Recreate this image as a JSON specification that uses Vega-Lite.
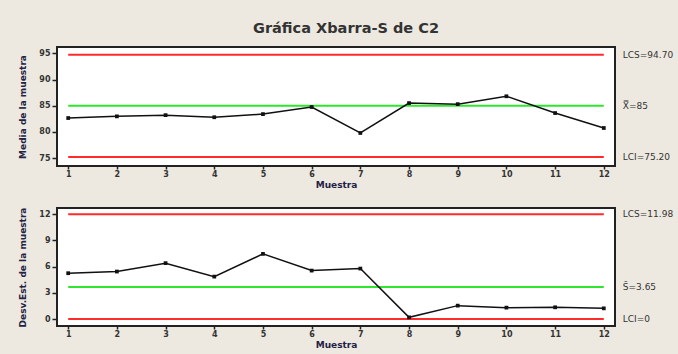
{
  "$schema": "https://vega.github.io/schema/vega-lite/v6.json",
  "background": "#ede9e0",
  "padding": {"left": 17, "top": 20, "right": 4, "bottom": 4},
  "title": {
    "text": "Gráfica Xbarra-S de C2",
    "font": "DejaVu Sans",
    "fontSize": 14.5,
    "fontWeight": "bold",
    "color": "#333333",
    "anchor": "middle",
    "offset": 10
  },
  "datasets": {
    "muestras": [
      {"muestra": 1, "media": 82.65, "desv": 5.24},
      {"muestra": 2, "media": 82.97, "desv": 5.43},
      {"muestra": 3, "media": 83.2, "desv": 6.39},
      {"muestra": 4, "media": 82.8, "desv": 4.85},
      {"muestra": 5, "media": 83.4, "desv": 7.45},
      {"muestra": 6, "media": 84.75, "desv": 5.54},
      {"muestra": 7, "media": 79.8, "desv": 5.77},
      {"muestra": 8, "media": 85.5, "desv": 0.19},
      {"muestra": 9, "media": 85.3, "desv": 1.53},
      {"muestra": 10, "media": 86.8, "desv": 1.3},
      {"muestra": 11, "media": 83.6, "desv": 1.34},
      {"muestra": 12, "media": 80.75, "desv": 1.22}
    ],
    "limMedia": [
      {"tipo": "control", "valor": 94.7, "etiqueta": "LCS=94.70"},
      {"tipo": "centro", "valor": 85, "etiqueta": "X̿=85"},
      {"tipo": "control", "valor": 75.2, "etiqueta": "LCI=75.20"}
    ],
    "limDesv": [
      {"tipo": "control", "valor": 11.98, "etiqueta": "LCS=11.98"},
      {"tipo": "centro", "valor": 3.65, "etiqueta": "S̄=3.65"},
      {"tipo": "control", "valor": 0, "etiqueta": "LCI=0"}
    ]
  },
  "spacing": 16,
  "vconcat": [
    {
      "width": 558,
      "height": 119,
      "layer": [
        {
          "data": {"name": "limMedia"},
          "mark": {"type": "rule", "strokeWidth": 2},
          "encoding": {
            "x": {
              "datum": 1,
              "type": "quantitative",
              "title": "Muestra",
              "scale": {"domain": [0.77, 12.23], "nice": false, "zero": false},
              "axis": {"values": [1, 2, 3, 4, 5, 6, 7, 8, 9, 10, 11, 12], "format": "d", "tickSize": 3, "labelPadding": 1, "titlePadding": 2}
            },
            "x2": {"datum": 12},
            "y": {
              "field": "valor",
              "type": "quantitative",
              "title": "Media de la muestra",
              "scale": {"domain": [73.5, 96.2], "nice": false, "zero": false},
              "axis": {"values": [75, 80, 85, 90, 95], "labelOverlap": false, "tickCount": 5}
            },
            "color": {
              "field": "tipo",
              "type": "nominal",
              "scale": {"domain": ["control", "centro"], "range": ["#ff2b2b", "#2ee62e"]},
              "legend": null
            }
          }
        },
        {
          "data": {"name": "limMedia"},
          "mark": {"type": "text", "align": "left", "dx": 19, "fontSize": 9, "font": "DejaVu Sans", "color": "#333333"},
          "encoding": {
            "x": {
              "datum": 12,
              "type": "quantitative",
              "title": "Muestra",
              "axis": {"values": [1, 2, 3, 4, 5, 6, 7, 8, 9, 10, 11, 12], "format": "d", "tickSize": 3, "labelPadding": 1, "titlePadding": 2}
            },
            "y": {
              "field": "valor",
              "type": "quantitative",
              "title": "Media de la muestra",
              "axis": {"values": [75, 80, 85, 90, 95], "labelOverlap": false, "tickCount": 5}
            },
            "text": {"field": "etiqueta"}
          }
        },
        {
          "data": {"name": "muestras"},
          "mark": {
            "type": "line",
            "color": "#111111",
            "strokeWidth": 1.5,
            "point": {"shape": "square", "size": 14, "color": "#111111", "filled": true}
          },
          "encoding": {
            "x": {
              "field": "muestra",
              "type": "quantitative",
              "title": "Muestra",
              "axis": {"values": [1, 2, 3, 4, 5, 6, 7, 8, 9, 10, 11, 12], "format": "d", "tickSize": 3, "labelPadding": 1, "titlePadding": 2}
            },
            "y": {
              "field": "media",
              "type": "quantitative",
              "title": "Media de la muestra",
              "axis": {"values": [75, 80, 85, 90, 95], "labelOverlap": false, "tickCount": 5}
            }
          }
        }
      ]
    },
    {
      "width": 558,
      "height": 118,
      "layer": [
        {
          "data": {"name": "limDesv"},
          "mark": {"type": "rule", "strokeWidth": 2},
          "encoding": {
            "x": {
              "datum": 1,
              "type": "quantitative",
              "title": "Muestra",
              "scale": {"domain": [0.77, 12.23], "nice": false, "zero": false},
              "axis": {"values": [1, 2, 3, 4, 5, 6, 7, 8, 9, 10, 11, 12], "format": "d", "tickSize": 3, "labelPadding": 1, "titlePadding": 2}
            },
            "x2": {"datum": 12},
            "y": {
              "field": "valor",
              "type": "quantitative",
              "title": "Desv.Est. de la muestra",
              "scale": {"domain": [-0.8, 12.7], "nice": false, "zero": false},
              "axis": {"values": [0, 3, 6, 9, 12], "labelOverlap": false, "tickCount": 5}
            },
            "color": {
              "field": "tipo",
              "type": "nominal",
              "scale": {"domain": ["control", "centro"], "range": ["#ff2b2b", "#2ee62e"]},
              "legend": null
            }
          }
        },
        {
          "data": {"name": "limDesv"},
          "mark": {"type": "text", "align": "left", "dx": 19, "fontSize": 9, "font": "DejaVu Sans", "color": "#333333"},
          "encoding": {
            "x": {
              "datum": 12,
              "type": "quantitative",
              "title": "Muestra",
              "axis": {"values": [1, 2, 3, 4, 5, 6, 7, 8, 9, 10, 11, 12], "format": "d", "tickSize": 3, "labelPadding": 1, "titlePadding": 2}
            },
            "y": {
              "field": "valor",
              "type": "quantitative",
              "title": "Desv.Est. de la muestra",
              "axis": {"values": [0, 3, 6, 9, 12], "labelOverlap": false, "tickCount": 5}
            },
            "text": {"field": "etiqueta"}
          }
        },
        {
          "data": {"name": "muestras"},
          "mark": {
            "type": "line",
            "color": "#111111",
            "strokeWidth": 1.5,
            "point": {"shape": "square", "size": 14, "color": "#111111", "filled": true}
          },
          "encoding": {
            "x": {
              "field": "muestra",
              "type": "quantitative",
              "title": "Muestra",
              "axis": {"values": [1, 2, 3, 4, 5, 6, 7, 8, 9, 10, 11, 12], "format": "d", "tickSize": 3, "labelPadding": 1, "titlePadding": 2}
            },
            "y": {
              "field": "desv",
              "type": "quantitative",
              "title": "Desv.Est. de la muestra",
              "axis": {"values": [0, 3, 6, 9, 12], "labelOverlap": false, "tickCount": 5}
            }
          }
        }
      ]
    }
  ],
  "config": {
    "view": {"stroke": "#222222", "strokeWidth": 2, "fill": "white"},
    "axis": {
      "grid": false,
      "domain": false,
      "labelFont": "DejaVu Sans",
      "labelFontSize": 8,
      "labelFontWeight": "bold",
      "labelColor": "#333333",
      "labelPadding": 2,
      "labelOverlap": false,
      "labelFlush": false,
      "tickColor": "#222222",
      "tickSize": 5,
      "tickWidth": 1.5,
      "titleFont": "DejaVu Sans",
      "titleFontSize": 9,
      "titleFontWeight": "bold",
      "titleColor": "#222244",
      "titlePadding": 11
    }
  }
}
